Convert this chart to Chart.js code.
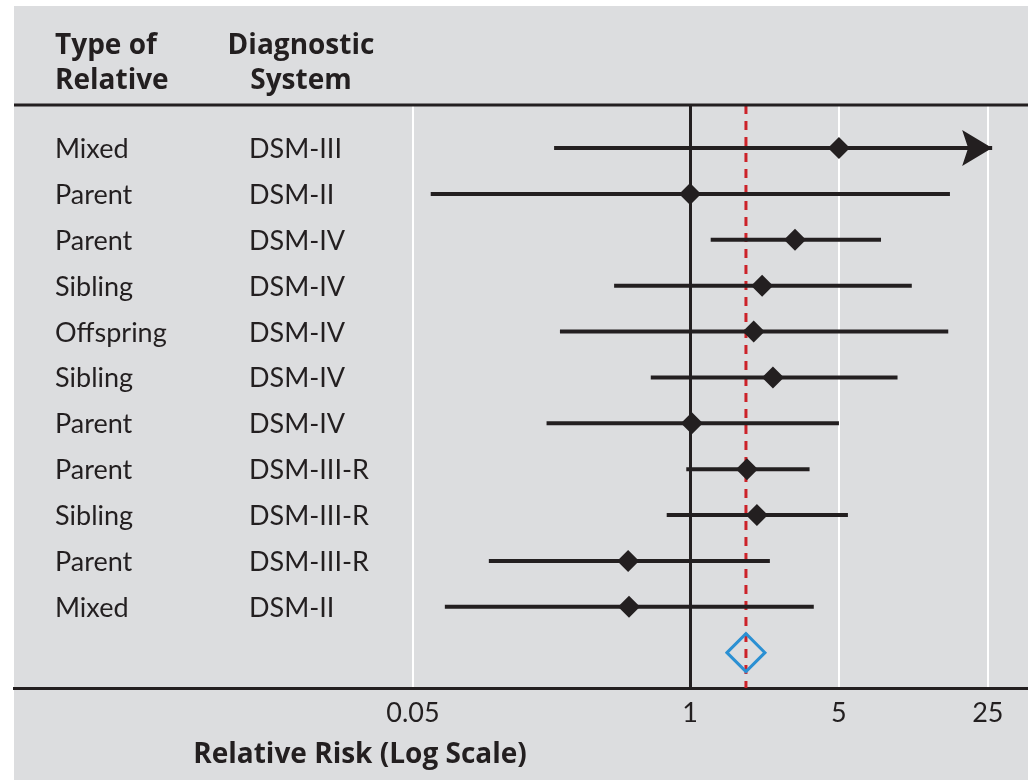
<!DOCTYPE html>
<html>
<head>
<meta charset="utf-8">
<script src="https://cdn.jsdelivr.net/npm/chart.js@4"></script>
<style>
  html, body { margin: 0; padding: 0; background: #ffffff; }
  #forest { display: block; }
</style>
</head>
<body>
<canvas id="forest" width="1028" height="780"></canvas>
<script>
// Forest plot: relative risk by type of relative / diagnostic system

const relatives = ['Mixed', 'Parent', 'Parent', 'Sibling', 'Offspring', 'Sibling', 'Parent', 'Parent', 'Sibling', 'Parent', 'Mixed'];
const systems   = ['DSM-III', 'DSM-II', 'DSM-IV', 'DSM-IV', 'DSM-IV', 'DSM-IV', 'DSM-IV', 'DSM-III-R', 'DSM-III-R', 'DSM-III-R', 'DSM-II'];
const relRisk   = [5.0, 1.0, 3.11, 2.18, 1.99, 2.45, 1.02, 1.85, 2.06, 0.512, 0.517];
const ciLow     = [0.230, 0.0606, 1.25, 0.44, 0.245, 0.654, 0.212, 0.96, 0.777, 0.1136, 0.0706];
const ciHigh    = [26.2, 16.6, 7.88, 10.99, 16.3, 9.42, 5.0, 3.64, 5.51, 2.37, 3.81];
const ciArrow   = [true, false, false, false, false, false, false, false, false, false, false];
const pooledRR  = 1.83;
const tickValues = [0.05, 1, 5, 25];

const INK = '#231f20';
const BG = '#dcdddf';
const BLUE = '#2b90d3';
const RED = '#cc2229';
const FONT = 'Lato, "Open Sans", sans-serif';
const HEAD_FONT = '"Open Sans", Lato, sans-serif';

const ciDatasets = ciLow.map((lo, i) => ({
  type: 'line',
  data: [{ x: lo, y: i }, { x: ciHigh[i], y: i }],
  borderColor: INK,
  borderWidth: 4,
  borderCapStyle: 'butt',
  pointRadius: 0,
  order: 3,
}));

const forestPlugin = {
  id: 'forest',
  beforeDraw(chart) {
    const { ctx } = chart;
    ctx.save();
    ctx.fillStyle = BG;
    ctx.fillRect(14, 6, chart.width - 14, chart.height - 6);
    ctx.restore();
  },
  beforeDatasetsDraw(chart) {
    // pooled estimate reference line
    const { ctx, chartArea } = chart;
    const x = chart.scales.x.getPixelForValue(pooledRR);
    ctx.save();
    ctx.strokeStyle = RED;
    ctx.lineWidth = 3;
    ctx.setLineDash([9, 7]);
    ctx.beginPath();
    ctx.moveTo(x, chartArea.top);
    ctx.lineTo(x, chartArea.bottom);
    ctx.stroke();
    ctx.restore();
  },
  afterDatasetsDraw(chart) {
    const { ctx } = chart;
    const xs = chart.scales.x, ys = chart.scales.y;
    ctx.save();
    ctx.fillStyle = INK;
    ciArrow.forEach((open, i) => {
      if (!open) return;
      const tx = xs.getPixelForValue(ciHigh[i]);
      const ty = ys.getPixelForValue(i);
      ctx.beginPath();
      ctx.moveTo(tx, ty);
      ctx.lineTo(tx - 30, ty - 18);
      ctx.lineTo(tx - 24, ty);
      ctx.lineTo(tx - 30, ty + 18);
      ctx.closePath();
      ctx.fill();
    });
    ctx.restore();
  },
  afterDraw(chart) {
    const { ctx, chartArea } = chart;
    const ys = chart.scales.y;
    ctx.save();
    // header rule
    ctx.fillStyle = INK;
    ctx.fillRect(chartArea.left, chartArea.top - 1.5, chartArea.right - chartArea.left, 3);

    ctx.font = 'bold 28px ' + HEAD_FONT;
    ctx.textAlign = 'left';
    ctx.fillText('Type of', 55, 54);
    ctx.fillText('Relative', 55, 89);
    ctx.textAlign = 'center';
    ctx.fillText('Diagnostic', 301, 54);
    ctx.fillText('System', 301, 89);
    ctx.fillText('Relative Risk (Log Scale)', 360, 763);

    ctx.font = '27px ' + FONT;
    ctx.textAlign = 'left';
    relatives.forEach((r, i) => {
      const y = ys.getPixelForValue(i) + 10;
      ctx.fillText(r, 55, y);
      ctx.fillText(systems[i], 249, y);
    });
    ctx.restore();
  },
};

new Chart(document.getElementById('forest'), {
  type: 'scatter',
  data: {
    datasets: [
      ...ciDatasets,
      {
        data: relRisk.map((v, i) => ({ x: v, y: i })),
        pointStyle: 'rectRot',
        pointRadius: 11,
        backgroundColor: INK,
        borderWidth: 0,
        order: 2,
      },
      {
        data: [{ x: pooledRR, y: relRisk.length }],
        pointStyle: 'rectRot',
        pointRadius: 19,
        backgroundColor: 'rgba(0,0,0,0)',
        borderColor: BLUE,
        borderWidth: 3,
        order: 1,
      },
    ],
  },
  options: {
    responsive: false,
    animation: false,
    devicePixelRatio: 1,
    layout: { autoPadding: false, padding: { left: 14, right: 0, top: 105, bottom: 0 } },
    scales: {
      x: {
        type: 'logarithmic',
        min: 0.00067,
        max: 38.6,
        afterBuildTicks: (scale) => { scale.ticks = tickValues.map(v => ({ value: v })); },
        afterFit: (scale) => {
          scale.height = 92;
          scale.paddingLeft = 0;
          scale.paddingRight = 0;
        },
        grid: {
          drawTicks: false,
          color: (c) => (c.tick && c.tick.value === 1 ? INK : '#ffffff'),
          lineWidth: (c) => (c.tick && c.tick.value === 1 ? 3 : 2),
        },
        border: { display: true, color: INK, width: 3 },
        ticks: {
          color: INK,
          padding: 9,
          maxRotation: 0,
          autoSkip: false,
          font: { family: FONT, size: 27 },
          callback: (v) => String(v),
        },
      },
      y: {
        type: 'linear',
        reverse: true,
        min: -0.94,
        max: 11.77,
        display: false,
      },
    },
    plugins: {
      legend: { display: false },
      tooltip: { enabled: false },
    },
  },
  plugins: [forestPlugin],
});
</script>
</body>
</html>
